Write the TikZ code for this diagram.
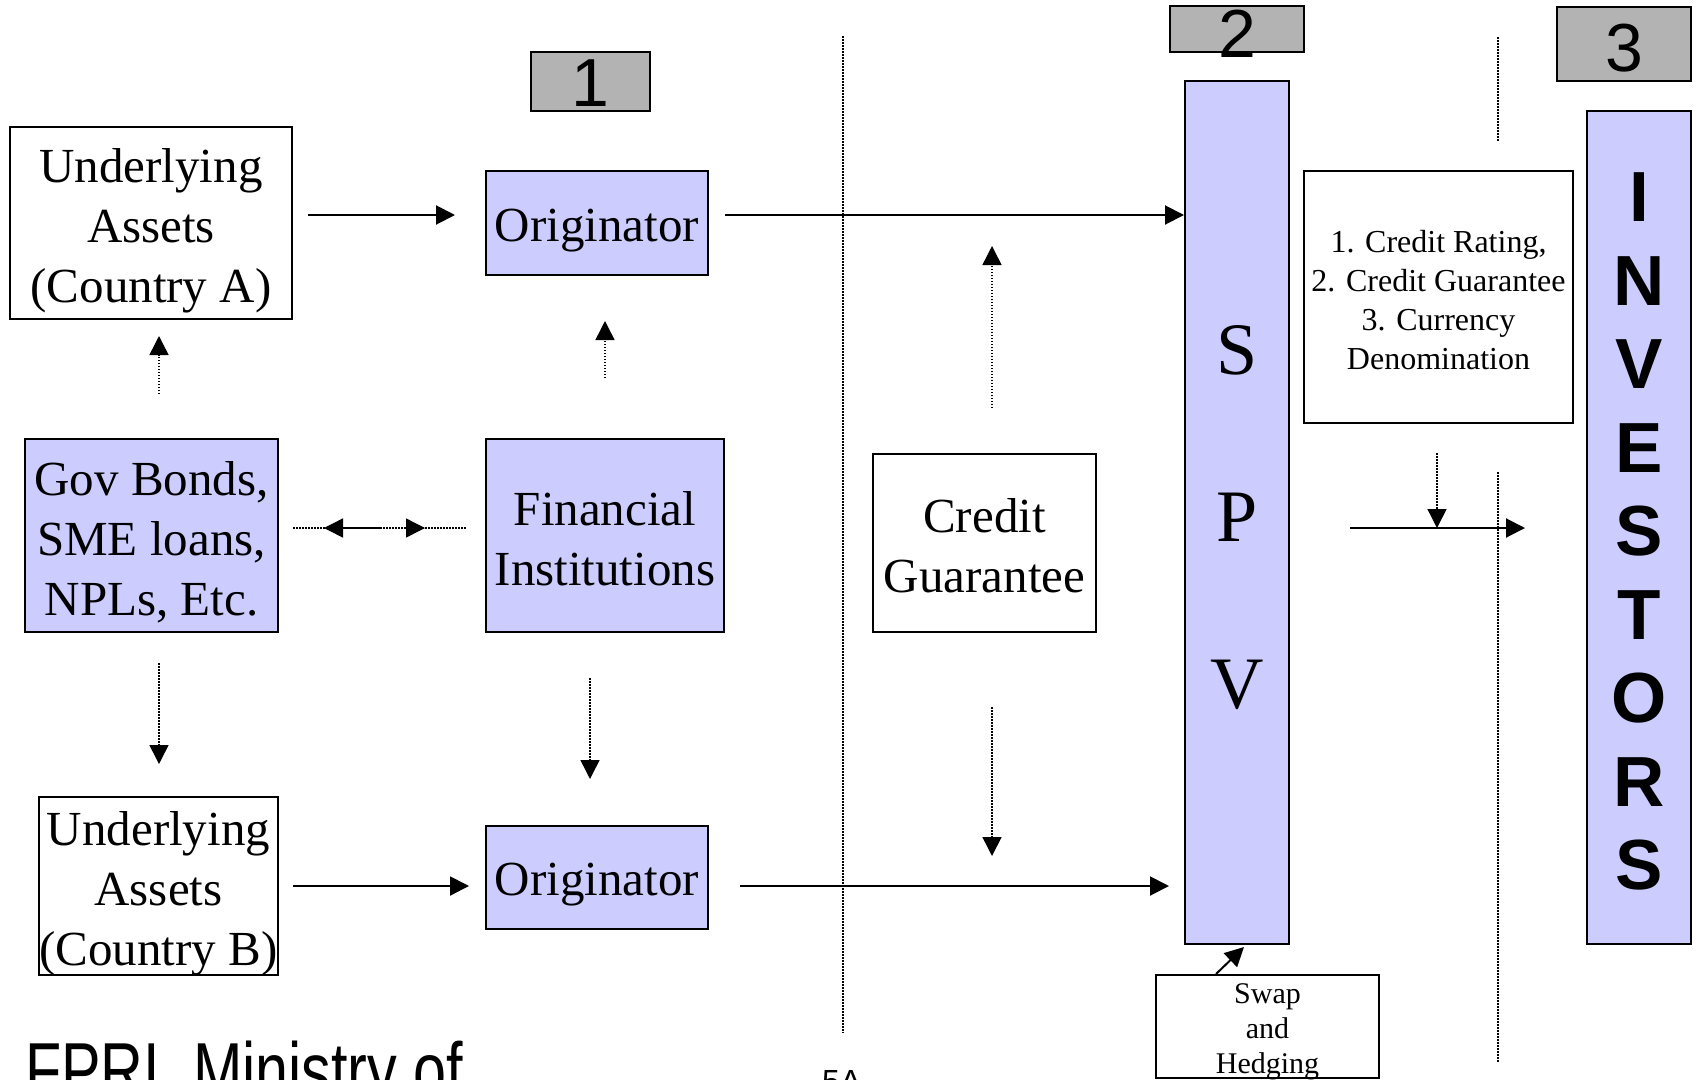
\documentclass[tikz,border=0pt]{standalone}
\usepackage{fontspec}
\setmainfont{Liberation Serif}
\newfontfamily\sansf{Liberation Sans}
\usetikzlibrary{arrows.meta,calc}
\definecolor{lav}{RGB}{204,204,255}
\definecolor{gbox}{RGB}{179,179,179}
\tikzset{
  box/.style={draw, line width=2pt, inner sep=0pt},
  lbox/.style={box, fill=lav},
  txt/.style={inner sep=0pt, align=center, font=\fontsize{49}{60}\selectfont},
  gbx/.style={draw, line width=2pt, fill=gbox, inner sep=0pt},
  num/.style={inner sep=0pt, font=\sansf\fontsize{68}{68}\selectfont},
  arr/.style={line width=2pt, -{Triangle[length=19pt,width=19pt]}},
  darr/.style={line width=1.5pt, dash pattern=on 1.5pt off 1.5pt, -{Triangle[length=19pt,width=19pt]}},
  dline/.style={line width=1.5pt, dash pattern=on 1.5pt off 1.5pt},
}
\begin{document}
\begin{tikzpicture}[x=1pt,y=-1pt]
\useasboundingbox (0,0) rectangle (1696,1079);
\clip (0,0) rectangle (1696,1079);
\fill[white] (0,0) rectangle (1696,1079);

% separators
\draw[dline] (843,36) -- (843,1033);
\draw[dline] (1498,37) -- (1498,142);
\draw[dline] (1498,472) -- (1498,1063);

% boxes
\node[box, minimum width=282pt, minimum height=192pt] (ua) at (151,223) {};
\node[lbox, minimum width=222pt, minimum height=104pt] (o1) at (597,223) {};
\node[lbox, minimum width=253pt, minimum height=193pt] (gov) at (151.5,535.5) {};
\node[lbox, minimum width=238pt, minimum height=193pt] (fi) at (605,535.5) {};
\node[box, minimum width=223pt, minimum height=178pt] (cg) at (984.5,543) {};
\node[box, minimum width=239pt, minimum height=178pt] (ub) at (158.5,886) {};
\node[lbox, minimum width=222pt, minimum height=103pt] (o2) at (597,877.5) {};
\node[lbox, minimum width=104pt, minimum height=863pt] (spv) at (1237,512.5) {};
\node[lbox, minimum width=104pt, minimum height=833pt] (inv) at (1639,527.5) {};
\node[box, minimum width=269pt, minimum height=252pt] (cr) at (1438.5,297) {};
\node[box, minimum width=223pt, minimum height=103pt] (sw) at (1267.5,1026.5) {};

% box texts
\node[txt] (ua-t) at ($(ua.center)+(0,7.5)$) {Underlying\\Assets\\(Country A)};
\node[txt] (o1-t) at ($(o1.center)+(0,8)$) {Originator};
\node[txt] (gov-t) at ($(gov.center)+(0,6.5)$) {Gov Bonds,\\SME loans,\\NPLs, Etc.};
\node[txt] (fi-t) at ($(fi.center)+(0,3)$) {Financial\\Institutions};
\node[txt] (cg-t) at ($(cg.center)+(0,3)$) {Credit\\Guarantee};
\node[txt] (ub-t) at ($(ub.center)+(0,7.5)$) {Underlying\\Assets\\(Country B)};
\node[txt] (o2-t) at ($(o2.center)+(0,7.5)$) {Originator};
\node[txt, font=\fontsize{74}{167}\selectfont] (spv-t) at ($(spv.center)+(0,5)$) {S\\P\\V};
\node[txt, font=\sansf\bfseries\fontsize{71}{83.5}\selectfont] (inv-t) at ($(inv.center)+(0,4)$) {I\\N\\V\\E\\S\\T\\O\\R\\S};
\node[txt, font=\fontsize{32}{39}\selectfont] (cr-t) at ($(cr.center)+(0,3)$) {1. Credit Rating,\\2. Credit Guarantee\\3. Currency\\Denomination};
\node[txt, font=\fontsize{30}{35}\selectfont] (sw-t) at ($(sw.center)+(0,5)$) {Swap\\and\\Hedging};

% gray number boxes
\node[gbx, minimum width=119pt, minimum height=59pt] (g1) at (590.5,81.5) {};
\node[num] (n1) at ($(g1.center)+(0,2)$) {1};
\node[gbx, minimum width=134pt, minimum height=45.5pt] (g2) at (1237,29) {};
\node[num] (n2) at ($(g2.center)+(0,5)$) {2};
\node[gbx, minimum width=134pt, minimum height=73.5pt] (g3) at (1624,44) {};
\node[num] (n3) at ($(g3.center)+(0,4)$) {3};

% solid arrows
\draw[arr] ($(ua.east)+(15,-8)$) -- ($(o1.west)+(-30,-8)$);
\coordinate (a2) at ($(o1.east)+(16,-8)$);
\draw[arr] (a2) -- (a2 -| spv.west);
\draw[arr] ($(ub.east)+(14,0)$) -- ($(ub.east -| o2.west)+(-16,0)$);
\coordinate (b2) at ($(o2.east)+(31,8.5)$);
\draw[arr] (b2) -- ($(b2 -| spv.west)+(-15,0)$);
\coordinate (c1) at ($(spv.east)+(60,15.5)$);
\draw[arr] (c1) -- ($(c1 -| inv.west)+(-61,0)$);
\draw[arr] ($(sw.north)+(-51.5,0)$) -- ($(spv.south)+(7,2)$);

% dotted arrows
\draw[darr] ($(gov.north)+(7.5,-44)$) -- ($(ua.south)+(8,16)$);
\draw[darr] ($(fi.north)+(0,-60)$) -- ($(o1.south)+(8,45)$);
\draw[darr] ($(cg.north)+(7.5,-45)$) -- ($(cg.north)+(7.5,-207)$);
\draw[darr] ($(gov.south)+(7.5,30)$) -- ($(ub.north)+(0.5,-32)$);
\draw[darr] ($(fi.south)+(-15,45)$) -- ($(o2.north)+(-7,-46)$);
\draw[darr] ($(cg.south)+(7.5,74)$) -- ($(cg.south)+(7.5,223)$);
\draw[darr] ($(cr.south)+(-1.5,29)$) -- ($(cr.south |- c1)+(-1.5,0)$);

\coordinate (dl) at ($(gov.east)+(14,-7.5)$);
\coordinate (dr) at ($(fi.west)+(-18,-7.5)$);
\coordinate (dm) at ($(dl)!0.5!(dr)$);
\draw[dline] (dl) -- (dr);
\draw[darr] (dm) -- ($(dl)+(31,0)$);
\draw[darr] (dm) -- ($(dr)+(-42,0)$);

% footer texts (cut by the page edge, as in the reference)
\node[anchor=base west, inner sep=0pt, font=\sansf\fontsize{78}{78}\selectfont, xscale=0.76] (fp) at (25,1097) {FPRI, Ministry of};
\node[anchor=base west, inner sep=0pt, font=\sansf\fontsize{32}{32}\selectfont] (pg) at (822,1092) {5A};
\end{tikzpicture}
\end{document}
